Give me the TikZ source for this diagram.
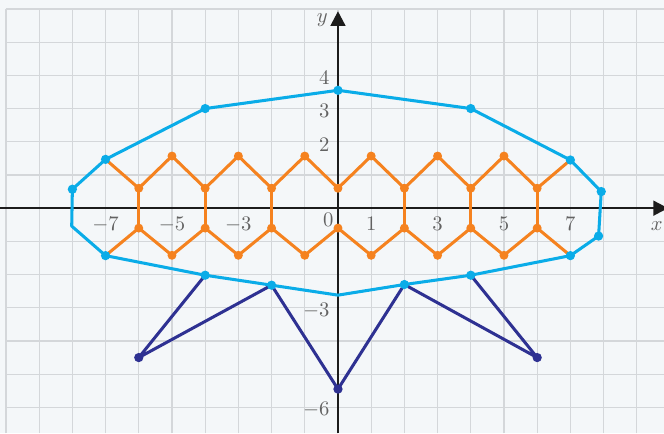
\documentclass[tikz,border=0pt]{standalone}
\usepackage{tikz}
\usetikzlibrary{arrows.meta}
\usepackage{xcolor}
\definecolor{PageBg}{HTML}{F4F7F9}
\definecolor{GridLine}{HTML}{D4D7DA}
\definecolor{AxisInk}{HTML}{1C1C1C}
\definecolor{HullBlue}{HTML}{0AACE8}
\definecolor{CombOrange}{HTML}{F5821F}
\definecolor{LegNavy}{HTML}{2E3192}
\definecolor{TickGray}{HTML}{626262}
\newcommand{\bignum}[1]{\scalebox{1.77}{$#1$}}

\begin{document}
\begin{tikzpicture}[
    gridline/.style={draw=GridLine, line width=0.95pt},
    axis/.style={draw=AxisInk, line width=1.4pt, -{Triangle[length=0.44cm, width=0.45cm]}},
    hull/.style={draw=HullBlue, line width=2.6pt, line join=round},
    comb/.style={draw=CombOrange, line width=2.6pt, line join=round},
    leg/.style={draw=LegNavy, line width=2.6pt, line join=round},
    ticklbl/.style={font=\normalsize, text=TickGray, inner sep=2pt}
  ]
  % Page and grid
  \useasboundingbox (-10.18,-6.78) rectangle (9.82,6.27);
  \fill[PageBg] (-10.18,-6.78) rectangle (9.82,6.27);
  \draw[gridline] (-10,-6.78) grid (9.82,6);

  % Axes
  \coordinate (xmin) at (-10.18,0);
  \coordinate (xmax) at (9.94,0);
  \coordinate (ymin) at (0,-6.78);
  \coordinate (ymax) at (0,5.93);
  \draw[axis] (xmin) -- (xmax);
  \draw[axis] (ymin) -- (ymax);

  % Tick labels
  \foreach \x [count=\k] in {-7,-5,-3,1,3,5,7}
    \node[ticklbl, anchor=north] (xt\k) at (\x,-0.18) {\bignum{\x}};
  \foreach \y [count=\k] in {4,3,2,-3,-6}
    \node[ticklbl, anchor=east] (yt\k) at (-0.18,\y-0.08) {\bignum{\y}};
  \node[ticklbl, anchor=north east] (orig) at (-0.06,-0.07) {\bignum{0}};
  \node[ticklbl] (xname) at (9.6,-0.54) {\bignum{x}};
  \node[ticklbl] (yname) at (-0.47,5.66) {\bignum{y}};

  % Blue hull
  \foreach \x/\y [count=\k] in {0/3.55, 4/3, 7/1.45, 7.93/0.5, 7.85/-0.84, 7/-1.43, 4/-2.02, 2/-2.3,
      0/-2.62, -2/-2.32, -4/-2.02, -7/-1.43, -8.02/-0.54, -8/0.57, -7/1.47, -4/3}
    \coordinate (h\k) at (\x,\y);
  \draw[hull] (h1) \foreach \k in {2,...,16} {-- (h\k)} -- cycle;

  % Orange comb
  \foreach \i in {1,...,7} {
    \coordinate (cu\i) at ({2*\i-8},0.6);
    \coordinate (cd\i) at ({2*\i-8},-0.6);
  }
  \foreach \i in {1,...,6} {
    \coordinate (pk\i) at ({2*\i-7},1.57);
    \coordinate (vl\i) at ({2*\i-7},-1.42);
  }
  \draw[comb] (h15) \foreach \i in {1,...,6} {-- (cu\i) -- (pk\i)} -- (cu7) -- (h3);
  \draw[comb] (h12) \foreach \i in {1,...,6} {-- (cd\i) -- (vl\i)} -- (cd7) -- (h6);
  \foreach \i in {1,2,3,5,6,7}
    \draw[comb] (cu\i) -- (cd\i);

  % Navy legs
  \coordinate (f1) at (-6,-4.5);
  \coordinate (f2) at (0,-5.45);
  \coordinate (f3) at (6,-4.5);
  \draw[leg] (h11) -- (f1) -- (h10) -- (f2) -- (h8) -- (f3) -- (h7);

  % Dots
  \foreach \i in {1,...,7}
    \fill[CombOrange] (cu\i) circle (0.135) (cd\i) circle (0.135);
  \foreach \i in {1,...,6}
    \fill[CombOrange] (pk\i) circle (0.135) (vl\i) circle (0.135);
  \foreach \k in {1,2,3}
    \fill[LegNavy] (f\k) circle (0.14);
  \foreach \k in {1,...,8,10,11,12,14,15,16}
    \fill[HullBlue] (h\k) circle (0.14);
\end{tikzpicture}
\end{document}
